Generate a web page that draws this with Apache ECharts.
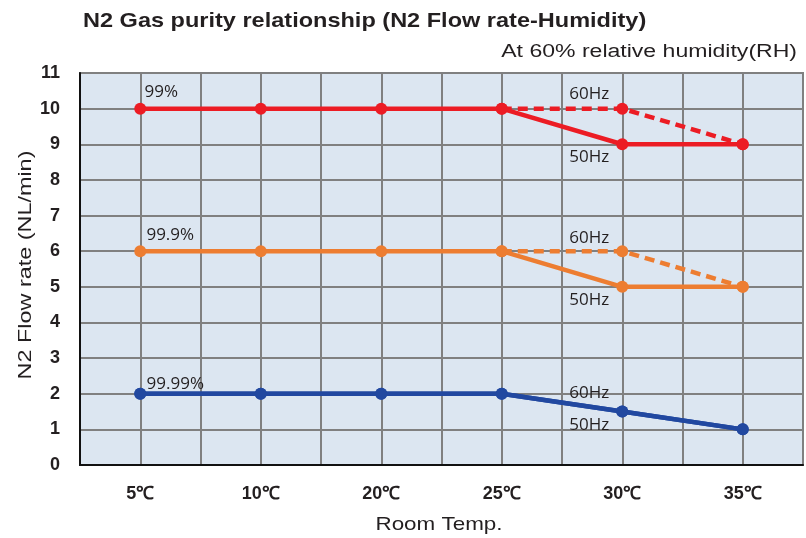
<!DOCTYPE html>
<html><head><meta charset="utf-8">
<script src="https://cdn.jsdelivr.net/npm/echarts@6/dist/echarts.min.js"></script>
<style>html,body{margin:0;padding:0;background:#fff}#c{width:806px;height:538px}</style>
</head><body><div id="c"></div>
<script>
const categories = ['5℃','10℃','20℃','25℃','30℃','35℃'];
const red50 = [10,10,10,10,9,9];
const red60 = [null,null,null,10,10,9];
const orange50 = [6,6,6,6,5,5];
const orange60 = [null,null,null,6,6,5];
const blue50 = [2,2,2,2,1.5,1];
const blue60 = [2,2,2,2,1.5,1];
const purityLabels = ['99%','99.9%','99.99%'];
const hzLabels = ['60Hz','50Hz'];
const titleText = 'N2 Gas purity relationship (N2 Flow rate-Humidity)';
const subtitleText = 'At 60% relative humidity(RH)';
const yName = 'N2 Flow rate (NL/min)';
const xName = 'Room Temp.';

const RED='#ec1c24', ORANGE='#ed7d31', BLUE='#2148a0';
const lblFont = {fontFamily:'Open Sans', fontSize:17, color:'#231f20'};
const SANS = '"Liberation Sans",Arial';

function withLabels(arr, labels){
  return arr.map((v,i)=>{
    if (labels[i]) return {value:v, label:Object.assign({show:true, position:'inside', formatter:labels[i].t, offset:labels[i].o}, lblFont)};
    return v;
  });
}
function lineSeries(data, color, dashed, z){
  return {type:'line', xAxisIndex:0, data:data, symbol:'circle', symbolSize:12, showSymbol:true,
    lineStyle:{color:color, width:4.5, type: dashed ? [10,6] : 'solid'}, itemStyle:{color:color}, z:z};
}
function txt(text, x, y, font, align, sx, rot){
  return {type:'text', x:x, y:y, scaleX:sx, rotation:rot||0,
    style:{text:text, x:0, y:0, font:font, fill:'#231f20', textAlign:align, textVerticalAlign:'middle', align:align, verticalAlign:'middle'}};
}

const option = {
  animation:false,
  grid:{left:80, right:3, top:73, bottom:73, show:true, backgroundColor:'#dce6f1', borderColor:'#808080', borderWidth:2},
  xAxis:[
    {type:'category', data:categories, boundaryGap:true,
     axisLine:{show:true, lineStyle:{color:'#111', width:2}}, axisTick:{show:false},
     axisLabel:{fontFamily:SANS, fontWeight:'bold', fontSize:18, color:'#231f20', margin:20},
     splitLine:{show:false}},
    {type:'value', min:0, max:12, interval:1, show:true, position:'bottom',
     axisLine:{show:false}, axisTick:{show:false}, axisLabel:{show:false},
     splitLine:{show:true, lineStyle:{color:'#808080', width:2}}}
  ],
  yAxis:{type:'value', min:0, max:11, interval:1,
    axisLine:{show:true, lineStyle:{color:'#111', width:2}}, axisTick:{show:false},
    axisLabel:{fontFamily:SANS, fontWeight:'bold', fontSize:18, color:'#231f20', margin:20},
    splitLine:{show:true, lineStyle:{color:'#808080', width:2}}},
  series:[
    lineSeries(withLabels(red60,{4:{t:hzLabels[0],o:[-33,-14.5]}}), RED, true, 3),
    lineSeries(withLabels(red50,{0:{t:purityLabels[0],o:[21,-16.5]},4:{t:hzLabels[1],o:[-33,12.5]}}), RED, false, 4),
    lineSeries(withLabels(orange60,{4:{t:hzLabels[0],o:[-33,-13]}}), ORANGE, true, 3),
    lineSeries(withLabels(orange50,{0:{t:purityLabels[1],o:[30,-16.5]},4:{t:hzLabels[1],o:[-33,13]}}), ORANGE, false, 4),
    lineSeries(withLabels(blue60,{0:{t:purityLabels[2],o:[35,-10]},4:{t:hzLabels[0],o:[-33,-18.5]}}), BLUE, false, 3),
    lineSeries(withLabels(blue50,{4:{t:hzLabels[1],o:[-33,13.5]}}), BLUE, false, 4)
  ],
  graphic:[
    txt(titleText, 83, 21, 'bold 21px '+SANS, 'left', 1.12),
    txt(subtitleText, 797, 52, '18px '+SANS, 'right', 1.28),
    txt(xName, 439, 525, '19px '+SANS, 'center', 1.18),
    txt(yName, 26, 265, '18px '+SANS, 'center', 1.3, Math.PI/2)
  ]
};
echarts.init(document.getElementById('c')).setOption(option);
</script></body></html>
